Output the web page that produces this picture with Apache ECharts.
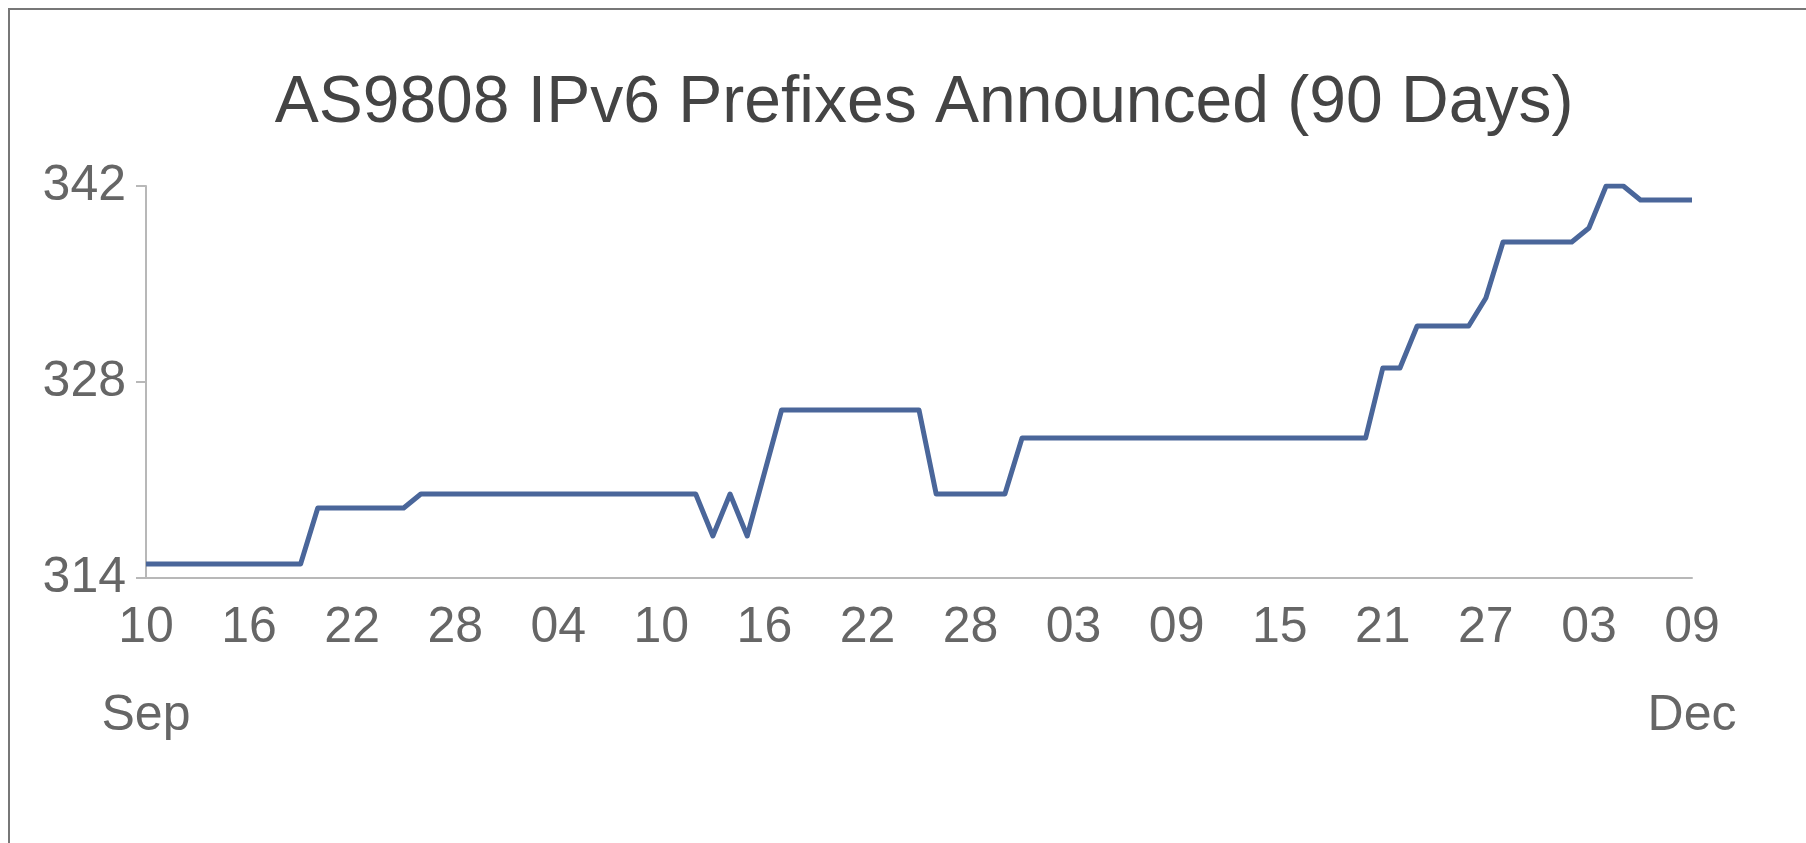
<!DOCTYPE html>
<html>
<head>
<meta charset="utf-8">
<title>AS9808 IPv6 Prefixes Announced (90 Days)</title>
<script src="https://cdn.jsdelivr.net/npm/echarts@6/dist/echarts.min.js"></script>
<style>
  html, body { margin: 0; padding: 0; background: #fff; }
  #chart { width: 1806px; height: 843px; }
</style>
</head>
<body>
<div id="chart"></div>
<script>
// days since Sep 10 where the line changes, and the prefix count there
var days = [0, 9, 10, 15, 16, 32, 33, 34, 35, 37, 45, 46, 50, 51, 71, 72, 73, 74, 77, 78, 79, 83, 84, 85, 86, 87, 90]
var prefixes = [315, 315, 319, 319, 320, 320, 317, 320, 317, 326, 326, 320, 320, 324, 324, 329, 329, 332, 332, 334, 338, 338, 339, 342, 342, 341, 341]

// x tick labels, one every 6 days
var xTicks = [0, 6, 12, 18, 24, 30, 36, 42, 48, 54, 60, 66, 72, 78, 84, 90]
var xTickLabels = ['10', '16', '22', '28', '04', '10', '16', '22', '28', '03', '09', '15', '21', '27', '03', '09']
var monthLabels = { 0: 'Sep', 90: 'Dec' }

var yTicks = [314, 328, 342]

var chart = echarts.init(document.getElementById('chart'))

var seriesData = []
for (var i = 0; i < days.length; i++) {
  seriesData.push([days[i], prefixes[i]])
}

var option = {
  backgroundColor: '#fff',
  animation: false,
  textStyle: { fontFamily: 'Liberation Sans, Arial, sans-serif' },
  title: {
    text: 'AS9808 IPv6 Prefixes Announced (90 Days)',
    left: 919,
    top: 66,
    textAlign: 'center',
    textStyle: {
      fontSize: 66,
      fontWeight: 'normal',
      color: '#444',
      fontFamily: 'Liberation Sans, Arial, sans-serif'
    }
  },
  graphic: [
    {
      type: 'rect',
      shape: { x: 9, y: 9, width: 1900, height: 900 },
      style: { fill: 'none', stroke: '#777', lineWidth: 2 },
      silent: true
    }
  ],
  grid: { left: 146, right: 114, top: 186, bottom: 265 },
  xAxis: {
    type: 'value',
    min: 0,
    max: 90,
    splitLine: { show: false },
    axisLine: { show: true, lineStyle: { color: '#b8b8b8', width: 2 } },
    axisTick: { show: false },
    axisLabel: {
      customValues: xTicks,
      margin: 11,
      color: '#666',
      formatter: function (value) {
        var idx = xTicks.indexOf(value)
        var txt = '{d|' + xTickLabels[idx] + '}'
        if (monthLabels[value]) txt += '\n{m|' + monthLabels[value] + '}'
        return txt
      },
      rich: {
        d: { fontSize: 50, lineHeight: 78, color: '#666', fontFamily: 'Liberation Sans, Arial, sans-serif' },
        m: { fontSize: 50, lineHeight: 98, color: '#666', fontFamily: 'Liberation Sans, Arial, sans-serif' }
      }
    }
  },
  yAxis: {
    type: 'value',
    min: 314,
    max: 342,
    splitLine: { show: false },
    axisLine: { show: true, lineStyle: { color: '#b8b8b8', width: 2 } },
    axisTick: { show: true, customValues: yTicks, length: 10, lineStyle: { color: '#b8b8b8', width: 2 } },
    axisLabel: {
      customValues: yTicks,
      margin: 20,
      fontSize: 50,
      color: '#666'
    }
  },
  series: [
    {
      type: 'line',
      data: seriesData,
      showSymbol: false,
      symbol: 'none',
      lineStyle: { color: '#4a669a', width: 5, join: 'round' },
      itemStyle: { color: '#4a669a' }
    }
  ]
}

chart.setOption(option)
</script>
</body>
</html>
